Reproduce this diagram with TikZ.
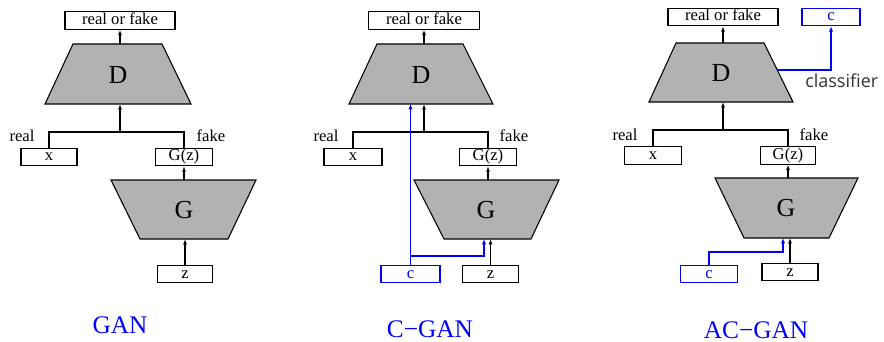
\documentclass[tikz,border=0pt]{standalone}
\usepackage{fontspec}
\setmainfont{Liberation Serif}
\newfontfamily\clsfont{Open Sans}
\usetikzlibrary{arrows.meta}
\begin{document}
\begin{tikzpicture}[x=0.75pt,y=-0.75pt,
  box/.style={draw,line width=0.9pt,rectangle,inner sep=0pt,minimum height=13pt,
    font=\fontsize{12.5}{14}\selectfont,text height=8.5pt,text depth=2.5pt},
  bbox/.style={box,draw=blue,text=blue},
  trap/.style={draw,line width=0.8pt,fill=gray!60},
  big/.style={font=\fontsize{19.5}{22}\selectfont,inner sep=0pt},
  lab/.style={font=\fontsize{12.5}{14}\selectfont,inner sep=0pt},
  ttl/.style={font=\fontsize{19}{22}\selectfont,text=blue,inner sep=0pt},
  line/.style={line width=0.9pt},
  arr/.style={line,-{Latex[length=4pt,width=3pt]}},
  barr/.style={line width=1.3pt,draw=blue,-{Latex[length=4pt,width=3.2pt]}}]
\useasboundingbox (0,0) rectangle (884,342);

% ================= GAN =================
\node[box,minimum width=82.5pt] (rf1) at (120,20.5) {real or fake};
\draw[trap] (73,44) -- (162,44) -- (191,104) -- (45,104) -- cycle;
\node[big] (D1) at (118,75) {D};
\coordinate (D1t) at (120,44);
\coordinate (D1b) at (120,104);
\coordinate (j1) at (120,132);
\node[box,minimum width=42pt] (x1) at (49,157) {x};
\node[box,minimum width=42.75pt] (gz1) at (184,157) {G(z)};
\draw[trap] (111,180) -- (256,180) -- (228,239) -- (140,239) -- cycle;
\node[big] (G1) at (184,210) {G};
\coordinate (G1t) at (184,180);
\coordinate (G1b) at (184,239);
\node[box,minimum width=41.25pt] (z1) at (185,274) {z};
\node[lab] (real1) at (22,136) {real};
\node[lab] (fake1) at (211,136) {fake};
\draw[arr] (D1t) -- (rf1.south);
\draw[line] (x1.north) |- (j1) -| (gz1.north);
\draw[arr] (j1) -- (D1b);
\draw[arr] (G1t) -- (gz1.south);
\draw[arr] (z1.north) -- (z1.north |- G1b);
\node[ttl] (t1) at (120,325) {GAN};

% ================= C-GAN =================
\node[box,minimum width=83.25pt] (rf2) at (424,20.5) {real or fake};
\draw[trap] (377,44) -- (463,44) -- (493,104) -- (349,104) -- cycle;
\node[big] (D2) at (421,75) {D};
\coordinate (D2t) at (424,44);
\coordinate (D2b) at (424,104);
\coordinate (j2) at (424,132);
\node[box,minimum width=43.5pt] (x2) at (353,157) {x};
\node[box,minimum width=42.75pt] (gz2) at (488,157) {G(z)};
\draw[trap] (414,180) -- (559,180) -- (531,239) -- (444,239) -- cycle;
\node[big] (G2) at (486,210) {G};
\coordinate (G2t) at (488,180);
\coordinate (G2b) at (488,239);
\node[bbox,minimum width=44.25pt] (c2) at (410.5,274) {c};
\node[box,minimum width=42pt] (z2) at (490.5,274) {z};
\node[lab] (real2) at (326,136) {real};
\node[lab] (fake2) at (514,136) {fake};
\draw[arr] (D2t) -- (rf2.south);
\draw[line] (x2.north) |- (j2) -| (gz2.north);
\draw[arr] (j2) -- (D2b);
\draw[arr] (G2t) -- (gz2.south);
\draw[arr] (z2.north) -- (z2.north |- G2b);
\coordinate (k2) at (484,256);
\draw[barr] (c2.north) -- (c2.north |- D2b);
\draw[barr] (c2.north |- k2) -- (k2) -- (k2 |- G2b);
\node[ttl] (t2) at (430,329) {C−GAN};

% ================= AC-GAN =================
\node[box,minimum width=82.5pt] (rf3) at (723,17) {real or fake};
\node[bbox,minimum width=43.5pt] (c3t) at (831,17) {c};
\draw[trap] (676,43) -- (764,43) -- (793,102) -- (649,102) -- cycle;
\node[big] (D3) at (721,73) {D};
\coordinate (D3t) at (723,43);
\coordinate (D3b) at (723,102);
\coordinate (D3r) at (777,70);
\coordinate (j3) at (723,130);
\node[box,minimum width=42.75pt] (x3) at (653,155.5) {x};
\node[box,minimum width=41.25pt] (gz3) at (788,155.5) {G(z)};
\draw[trap] (715,178) -- (858,178) -- (829,238) -- (744,238) -- cycle;
\node[big] (G3) at (786,208) {G};
\coordinate (G3t) at (788,178);
\coordinate (G3b) at (788,238);
\node[bbox,minimum width=42.75pt] (c3) at (709,274) {c};
\node[box,minimum width=42pt] (z3) at (790,272) {z};
\node[lab] (real3) at (625,135) {real};
\node[lab] (fake3) at (814,135) {fake};
\node[font=\clsfont\fontsize{13.5}{16}\selectfont,text=black!80,inner sep=0pt,anchor=base west] (cls) at (805,88) {classifier};
\draw[arr] (D3t) -- (rf3.south);
\draw[line] (x3.north) |- (j3) -| (gz3.north);
\draw[arr] (j3) -- (D3b);
\draw[arr] (G3t) -- (gz3.south);
\draw[arr] (z3.north) -- (z3.north |- G3b);
\draw[barr] (D3r) -| (c3t.south);
\coordinate (k3) at (783,252);
\draw[barr] (c3.north) |- (k3) -- (k3 |- G3b);
\node[ttl] (t3) at (756,330) {AC−GAN};
\end{tikzpicture}
\end{document}
